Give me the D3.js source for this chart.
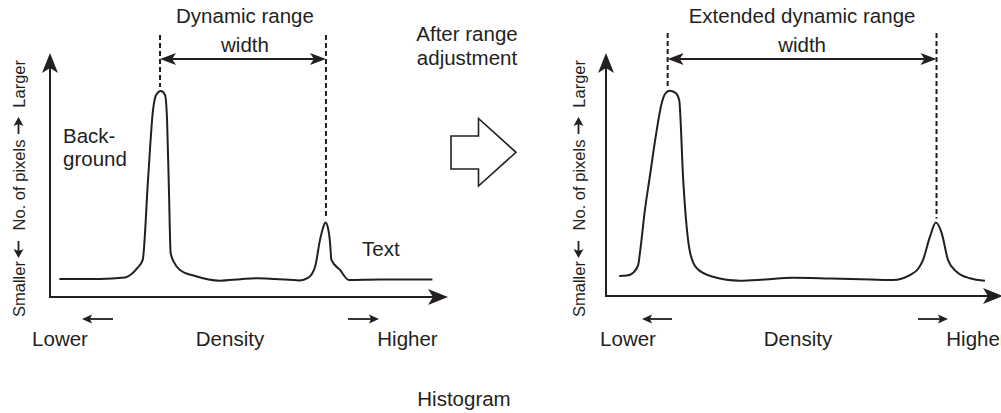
<!DOCTYPE html>
<html>
<head>
<meta charset="utf-8">
<script src="https://cdn.jsdelivr.net/npm/d3@7"></script>
<style>
body { margin: 0; background: #fff; }
svg { display: block; }
text { font-family: "Liberation Sans", Arial, sans-serif; fill: #231f20; }
</style>
</head>
<body>
<svg id="chart" width="1001" height="413"></svg>
<script>
// histogram before range adjustment (density 0-255, relative pixel count)
var densityBefore = [6, 32, 48, 53, 56, 59.4, 62.8, 66, 68, 71, 73.7, 75, 76.2, 77.3, 79.4, 83.3, 93, 109, 122, 132.4, 144, 160, 165.3, 169.8, 173, 174.9, 176.5, 178.1, 179.4, 180.3, 185.8, 191.5, 211, 245];
var countBefore   = [7.4, 7.4, 8.0, 9.8, 11.9, 15.2, 48, 76.6, 82.8, 84.4, 82.8, 72.5, 43.9, 18.0, 14.3, 11.1, 8.6, 6.7, 7.3, 7.7, 7.4, 6.8, 7.8, 12.3, 23.4, 28.3, 30.5, 28.3, 22.5, 15.2, 11.1, 7.0, 7.2, 7.2];

// histogram after range adjustment
var densityAfter = [8.5, 13.3, 17.5, 20.7, 21.8, 25, 28.3, 32.1, 35.8, 37.9, 40.8, 44.5, 47, 49.6, 52, 53.9, 58.3, 68.7, 86, 102, 120, 144, 170, 184.3, 195.2, 200.4, 203.6, 208.1, 211.9, 215.6, 219.7, 225.2, 233.8, 243.4];
var countAfter   = [8.2, 8.4, 9.6, 12.8, 17.7, 35.4, 49.8, 66.3, 79.4, 83.1, 84.5, 83.7, 80.7, 47.7, 27.2, 18.2, 11.4, 7.9, 6.3, 6.8, 7.5, 7.2, 6.8, 6.6, 8.6, 11.1, 14.8, 24.4, 30.2, 25.9, 14.8, 10.0, 7.3, 6.3];

// dynamic range limits (density)
var rangeBefore = [70.5, 176.8];
var rangeAfter = [39.6, 212.3];

var densityDomain = [0, 255];
var countDomain = [0, 100];

var xLabels = ["Lower", "Density", "Higher"];
var yLabels = ["Smaller", "No. of pixels", "Larger"];
var rangeTitleBefore = ["Dynamic range", "width"];
var rangeTitleAfter = ["Extended dynamic range", "width"];
var stepLabel = ["After range", "adjustment"];
var chartTitle = "Histogram";

var ink = "#231f20";
var fontSize = 20.5;
var smallFont = 16.5;

var svg = d3.select("#chart");

// filled arrow head, notched at the back
function headPath(x, y, dir, len, half, notch) {
	var dx = dir[0], dy = dir[1];
	var px = -dy, py = dx;
	var bx = x - dx*len, by = y - dy*len;
	var nx = x - dx*(len-notch), ny = y - dy*(len-notch);
	return "M" + x + "," + y +
		"L" + (bx + px*half) + "," + (by + py*half) +
		"L" + nx + "," + ny +
		"L" + (bx - px*half) + "," + (by - py*half) + "Z";
}

function arrowLine(g, x1, y1, x2, y2, w, len, half, notch) {
	var d = Math.hypot(x2-x1, y2-y1);
	var dir = [(x2-x1)/d, (y2-y1)/d];
	g.append("line")
		.attr("x1", x1).attr("y1", y1)
		.attr("x2", x2 - dir[0]*(len-notch)).attr("y2", y2 - dir[1]*(len-notch))
		.attr("stroke", ink).attr("stroke-width", w);
	g.append("path")
		.attr("d", headPath(x2, y2, dir, len, half, notch))
		.attr("fill", ink);
}

function drawPanel(cfg) {
	var g = svg.append("g");

	var x = d3.scaleLinear().domain(densityDomain).range([cfg.x0, cfg.x1]);
	var y = d3.scaleLinear().domain(countDomain).range([cfg.y0, cfg.y1]);

	// axes
	g.append("line")
		.attr("x1", cfg.x0).attr("y1", cfg.y0)
		.attr("x2", cfg.x0).attr("y2", cfg.y1 + 10)
		.attr("stroke", ink).attr("stroke-width", 2);
	g.append("line")
		.attr("x1", cfg.x0 - 1).attr("y1", cfg.y0)
		.attr("x2", cfg.x1 - 10).attr("y2", cfg.y0)
		.attr("stroke", ink).attr("stroke-width", 2);
	g.append("path").attr("d", headPath(cfg.x0, cfg.y1, [0, -1], 20, 8, 5)).attr("fill", ink);
	g.append("path").attr("d", headPath(cfg.x1, cfg.y0, [1, 0], 20, 8, 5)).attr("fill", ink);

	// histogram curve
	var line = d3.line()
		.x(function(d) { return x(d[0]); })
		.y(function(d) { return y(d[1]); })
		.curve(d3.curveMonotoneX);
	g.append("path")
		.datum(d3.zip(cfg.density, cfg.count))
		.attr("d", line)
		.attr("fill", "none")
		.attr("stroke", ink)
		.attr("stroke-width", 2)
		.attr("stroke-linejoin", "round");

	// dashed limits of the dynamic range
	cfg.range.forEach(function(r) {
		var near = cfg.density.map(function(d, i) { return Math.abs(d - r) < 4 ? cfg.count[i] : 0; });
		g.append("line")
			.attr("x1", x(r)).attr("x2", x(r))
			.attr("y1", cfg.dashTop)
			.attr("y2", y(d3.max(near)) - 4)
			.attr("stroke", ink)
			.attr("stroke-width", 2)
			.attr("stroke-dasharray", "5,3");
	});

	// double arrow
	var xa = x(cfg.range[0]), xb = x(cfg.range[1]);
	arrowLine(g, (xa+xb)/2, cfg.arrowY, xa, cfg.arrowY, 2, 16, 6, 4);
	arrowLine(g, (xa+xb)/2, cfg.arrowY, xb, cfg.arrowY, 2, 16, 6, 4);

	g.selectAll(".rtitle").data(cfg.title).enter()
		.append("text")
		.attr("class", "rtitle")
		.attr("x", (xa+xb)/2 + cfg.titleShift)
		.attr("y", function(d, i) { return 23 + i*28.5; })
		.attr("text-anchor", "middle")
		.attr("font-size", fontSize)
		.text(function(d) { return d; });

	// density labels
	g.selectAll(".xlab").data(xLabels).enter()
		.append("text")
		.attr("class", "xlab")
		.attr("x", function(d, i) { return cfg.xLabelPos[i]; })
		.attr("y", 346)
		.attr("text-anchor", "middle")
		.attr("font-size", fontSize)
		.text(function(d) { return d; });
	arrowLine(g, cfg.lowArrow[0], 319, cfg.lowArrow[1], 319, 1.8, 10, 4.5, 2);
	arrowLine(g, cfg.highArrow[0], 319, cfg.highArrow[1], 319, 1.8, 10, 4.5, 2);

	// rotated count label
	var lx = cfg.labelX;
	g.append("text")
		.attr("transform", "translate(" + lx + ",317) rotate(-90)")
		.attr("text-anchor", "start")
		.attr("font-size", smallFont)
		.text(yLabels[0]);
	g.append("text")
		.attr("transform", "translate(" + lx + ",185) rotate(-90)")
		.attr("text-anchor", "middle")
		.attr("font-size", smallFont)
		.text(yLabels[1]);
	g.append("text")
		.attr("transform", "translate(" + lx + ",60) rotate(-90)")
		.attr("text-anchor", "end")
		.attr("font-size", smallFont)
		.text(yLabels[2]);
	arrowLine(g, lx - 6, 241, lx - 6, 258, 1.8, 9, 5, 2);
	arrowLine(g, lx - 6, 134, lx - 6, 117, 1.8, 9, 5, 2);

	return g;
}

var left = drawPanel({
	x0: 50, x1: 448, y0: 297, y1: 53,
	density: densityBefore, count: countBefore, range: rangeBefore,
	dashTop: 35, arrowY: 59, title: rangeTitleBefore, titleShift: 2,
	xLabelPos: [60, 230, 407.5], lowArrow: [113, 82], highArrow: [348, 379],
	labelX: 24.5
});
var right = drawPanel({
	x0: 606, x1: 1003, y0: 296, y1: 53,
	density: densityAfter, count: countAfter, range: rangeAfter,
	dashTop: 33, arrowY: 59, title: rangeTitleAfter, titleShift: 0,
	xLabelPos: [628, 798, 976.5], lowArrow: [672, 642], highArrow: [918, 948],
	labelX: 584.5
});

// peak annotations on the original histogram
left.append("text").attr("x", 63).attr("y", 143).attr("font-size", fontSize).text("Back-");
left.append("text").attr("x", 63).attr("y", 166).attr("font-size", fontSize).text("ground");
left.append("text").attr("x", 362).attr("y", 256).attr("font-size", fontSize).text("Text");

// step label and big outline arrow
svg.selectAll(".step").data(stepLabel).enter()
	.append("text")
	.attr("class", "step")
	.attr("x", 467)
	.attr("y", function(d, i) { return 41 + i*24; })
	.attr("text-anchor", "middle")
	.attr("font-size", fontSize)
	.text(function(d) { return d; });

var bigArrow = [[451, 136], [478.5, 136], [478.5, 118.5], [516, 152.3], [478.5, 186], [478.5, 169], [451, 169]];
svg.append("polygon")
	.attr("points", bigArrow.map(function(p) { return p.join(","); }).join(" "))
	.attr("fill", "#fff")
	.attr("stroke", ink)
	.attr("stroke-width", 1.6);

svg.append("text")
	.attr("x", 464).attr("y", 406)
	.attr("text-anchor", "middle")
	.attr("font-size", fontSize)
	.text(chartTitle);
</script>
</body>
</html>
